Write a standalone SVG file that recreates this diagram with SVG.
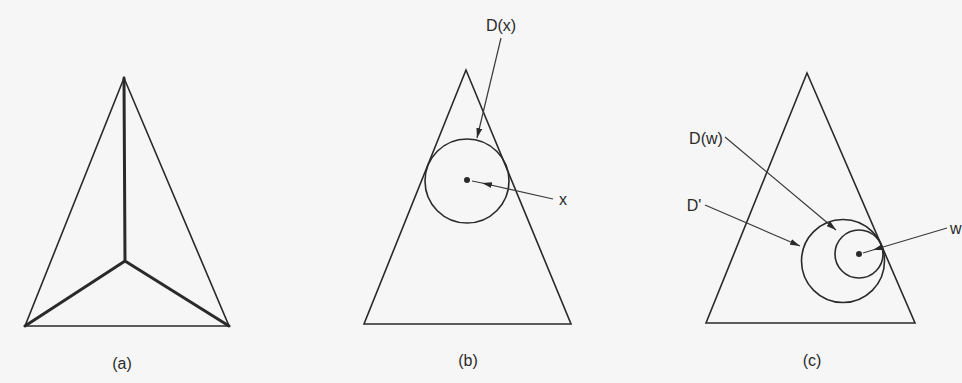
<svg xmlns="http://www.w3.org/2000/svg" width="962" height="383" viewBox="0 0 962 383">
<defs>
<style>
.bg{fill:#f6f6f6}
.edge{fill:none;stroke:#2a2a2a;stroke-width:1.6;stroke-linejoin:miter}
.thick{fill:none;stroke:#2a2a2a;stroke-width:3;stroke-linecap:round;stroke-linejoin:round}
.circ{fill:none;stroke:#2a2a2a;stroke-width:1.6}
.dot{fill:#2a2a2a}
.arr{fill:none;stroke:#3a3a3a;stroke-width:1.2}
.lbl{font-family:"Liberation Sans","DejaVu Sans",sans-serif;font-size:16px;fill:#2a2a2a}
</style>
<marker id="ah" viewBox="0 0 10 6" refX="10" refY="3" markerWidth="10" markerHeight="6" markerUnits="userSpaceOnUse" orient="auto">
<path d="M0,0 L10,3 L0,6 Z" fill="#2a2a2a"/>
</marker>
</defs>
<rect class="bg" x="0" y="0" width="962" height="383"/>

<g id="panel-a">
<polygon class="edge" points="124,78 25,326 229,326"/>
<path class="thick" d="M124,78 L125,261 M125,261 L25,326 M125,261 L229,326"/>
<text class="lbl" x="122" y="369" text-anchor="middle">(a)</text>
</g>

<g id="panel-b">
<polygon class="edge" points="466,70 364,324 571,324"/>
<circle id="disk-Dx" class="circ" cx="467" cy="181" r="42"/>
<circle id="point-x" class="dot" cx="467" cy="180" r="3"/>
<text class="lbl" x="501" y="31" text-anchor="middle">D(x)</text>
<text class="lbl" x="563" y="205" text-anchor="middle">x</text>
<text class="lbl" x="468" y="366" text-anchor="middle">(b)</text>
</g>

<g id="panel-c">
<polygon class="edge" points="807,73 706,323 915,323"/>
<circle id="disk-Dprime" class="circ" cx="843" cy="261" r="41.5"/>
<circle id="disk-Dw" class="circ" cx="859" cy="254" r="24"/>
<circle id="point-w" class="dot" cx="859" cy="254" r="3"/>
<text class="lbl" x="706" y="144" text-anchor="middle">D(w)</text>
<text class="lbl" x="694" y="211" text-anchor="middle">D'</text>
<text class="lbl" x="950" y="234">w</text>
<text class="lbl" x="812" y="366" text-anchor="middle">(c)</text>
</g>

<g id="connectors">
<path class="arr" d="M501,38 L477,138" marker-end="url(#ah)"/>
<path class="arr" d="M553,199 L482,183 L472,181" marker-mid="url(#ah)"/>
<path class="arr" d="M725,137 L836,230" marker-end="url(#ah)"/>
<path class="arr" d="M705,205 L800,246" marker-end="url(#ah)"/>
<path class="arr" d="M947,228 L873,250 L863,253" marker-mid="url(#ah)"/>
</g>
</svg>
